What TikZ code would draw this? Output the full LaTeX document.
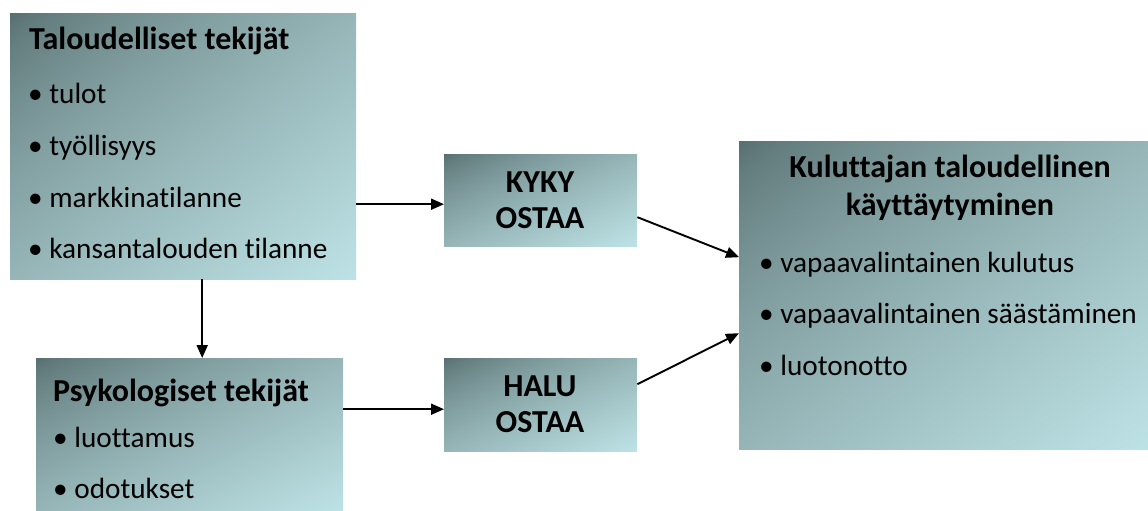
\documentclass[tikz,border=0pt]{standalone}
\usepackage{fontspec}
\setmainfont{Carlito}[Ligatures=NoCommon]
\usetikzlibrary{arrows.meta,calc}
\pgfdeclarefunctionalshading{diagsh}{\pgfpoint{0bp}{0bp}}{\pgfpoint{100bp}{100bp}}{}{
  exch 25 sub exch 75 exch sub add 100 div
  dup 0 lt {pop 0} if dup 1 gt {pop 1} if 0.7 exp
  dup 0.404 mul 0.337 add exch dup 0.459 mul 0.427 add exch 0.467 mul 0.431 add
}
\tikzset{
  box/.style={rectangle, draw=none, inner sep=0pt, anchor=north west, shading=diagsh},
  txt/.style={inner sep=0pt, anchor=base west, font=\fontsize{29.25}{34}\selectfont},
  ttl/.style={txt, font=\fontsize{32}{36}\selectfont\bfseries},
  arr/.style={line width=1.9pt, -{Triangle[length=13pt,width=11pt]}}
}
\begin{document}
\begin{tikzpicture}[x=1pt,y=-1pt]
\useasboundingbox (0,0) rectangle (1148,511);
% boxes
\node[box, minimum width=346pt, minimum height=266pt] (b1) at (10,13) {};
\node[box, minimum width=307pt, minimum height=153pt] (psyk) at (36,358) {};
\node[box, minimum width=193pt, minimum height=92pt] (kyky) at (444,154) {};
\node[box, minimum width=193pt, minimum height=93pt] (halu) at (444,358) {};
\node[box, minimum width=409pt, minimum height=308pt] (big) at (739,141) {};
% texts box 1
\node[ttl] (t1) at (29,50) {Taloudelliset tekijät};
\node[txt] (t1a) at (28,103) {• tulot};
\node[txt] (t1b) at (28,155) {• työllisyys};
\node[txt] (t1c) at (28,207) {• markkinatilanne};
\node[txt] (t1d) at (28,258) {• kansantalouden tilanne};
% texts box 2
\node[ttl] (t2) at (53,401) {Psykologiset tekijät};
\node[txt] (t2a) at (53,447) {• luottamus};
\node[txt] (t2b) at (53,498) {• odotukset};
% kyky / halu
\node[ttl, anchor=base] (k1) at (540,192) {KYKY};
\node[ttl, anchor=base] (k2) at (540,228) {OSTAA};
\node[ttl, anchor=base] (h1) at (540,396) {HALU};
\node[ttl, anchor=base] (h2) at (540,432) {OSTAA};
% big box
\node[ttl, anchor=base] (bt1) at (950,177) {Kuluttajan taloudellinen};
\node[ttl, anchor=base] (bt2) at (950,215) {käyttäytyminen};
\node[txt] (ba) at (759,272) {• vapaavalintainen kulutus};
\node[txt] (bb) at (759,323) {• vapaavalintainen säästäminen};
\node[txt] (bc) at (759,375) {• luotonotto};
% connector anchors
\coordinate (kin) at ($(kyky.west)+(0,4)$);
\coordinate (hin) at ($(halu.west)+(0,4.5)$);
\coordinate (kout) at ($(kyky.east)+(0,17)$);
\coordinate (hout) at ($(halu.east)+(0,-20.5)$);
\coordinate (bin1) at ($(big.west)+(0,-38)$);
\coordinate (bin2) at ($(big.west)+(0,38)$);
\coordinate (b1out) at ($(b1.south)+(19,0)$);
\coordinate (pin) at ($(psyk.north)+(12.5,0)$);
% connectors
\draw[arr] (b1.east |- kin) -- (kin);
\draw[arr] (b1out) -- (pin);
\draw[arr] (psyk.east |- hin) -- (hin);
\draw[arr] (kout) -- (bin1);
\draw[arr] (hout) -- (bin2);
\end{tikzpicture}
\end{document}
